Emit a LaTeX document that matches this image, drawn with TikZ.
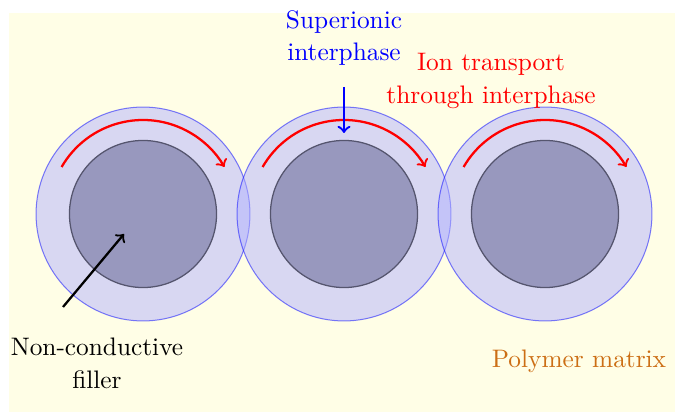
\documentclass[tikz,border=0pt]{standalone}
\definecolor{innerfill}{RGB}{152,152,190}
\definecolor{innerline}{RGB}{85,85,110}
\definecolor{polycol}{RGB}{204,110,20}
\begin{document}
\begin{tikzpicture}[x=0.395pt,y=0.395pt,
  every node/.style={font=\fontsize{10}{13}\selectfont},
  outercirc/.style={circle,minimum size=84.5pt,inner sep=0pt,fill=blue!30,fill opacity=0.5,draw=blue,draw opacity=0.5,line width=0.4pt},
  innercirc/.style={circle,minimum size=58.1pt,inner sep=0pt,fill=innerfill,draw=innerline,line width=0.5pt},
  ionarrow/.style={red,line width=0.9pt,->},
  labeltext/.style={align=center,inner sep=2pt}
]
\useasboundingbox (0,0) rectangle (675,-412);
\fill[yellow!10] (9,-13) rectangle (675,-412);

% outer shells
\node[outercirc] (o1) at (143,-214) {};
\node[outercirc] (o2) at (344,-214) {};
\node[outercirc] (o3) at (545,-214) {};
% fillers
\node[innercirc] (i1) at (143,-214) {};
\node[innercirc] (i2) at (344,-214) {};
\node[innercirc] (i3) at (545,-214) {};

% ion transport arcs
\foreach \c in {o1,o2,o3}{
  \draw[ionarrow] (\c.center) ++(150:94) arc[start angle=150,end angle=30,radius=94];
}

% labels
\node[labeltext,text=blue] (sup) at (344,-38) {Superionic\\interphase};
\node[labeltext,text=red] (ion) at (491,-81) {Ion transport\\through interphase};
\node[labeltext] (ncf) at (97,-363) {Non-conductive\\filler};
\node[labeltext,text=polycol] (pm) at (579,-361) {Polymer matrix};

% pointers
\coordinate (supstart) at (344,-87);
\coordinate (supend) at (344,-133);
\draw[blue,line width=0.9pt,->] (supstart) -- (supend);
\coordinate (ncfstart) at (63,-307);
\coordinate (ncfend) at (124,-234);
\draw[black,line width=0.9pt,->] (ncfstart) -- (ncfend);
\end{tikzpicture}
\end{document}
